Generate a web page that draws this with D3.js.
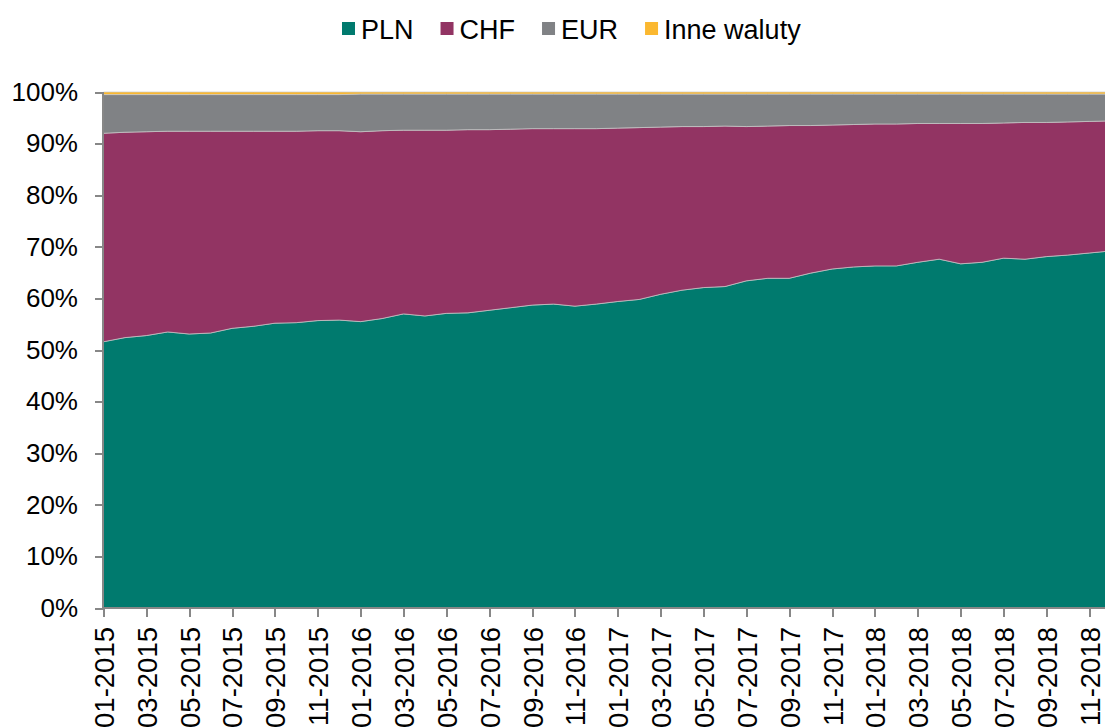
<!DOCTYPE html>
<html lang="pl">
<head>
	<meta charset="utf-8">
	<title>Struktura walutowa</title>
	<script src="https://d3js.org/d3.v7.min.js" charset="utf-8"></script>

	<style>
		body {
			margin: 0;
			background: #fff;
			font-family: "Liberation Sans", Arial, sans-serif;
		}
		.axis path,
		.axis line {
			fill: none;
			stroke: #878787;
			stroke-width: 2px;
			shape-rendering: crispEdges;
		}
		.axis text {
			font-family: "Liberation Sans", Arial, sans-serif;
			font-size: 26px;
			fill: #000;
		}
		.xaxis text {
			font-size: 27.5px;
		}
		.layer {
			stroke: #c9c9c9;
			stroke-width: 0.7px;
		}
		.legend text {
			font-size: 27px;
		}
	</style>
</head>

<body>
<script>

	// months, 01-2015 .. 12-2018
	var months = [];
	for (var yr = 2015; yr <= 2018; yr++) {
		for (var m = 1; m <= 12; m++) {
			months.push((m < 10 ? "0" + m : "" + m) + "-" + yr);
		}
	}

	// shares in %
	var pln = [51.6, 52.4, 52.8, 53.5, 53.1, 53.3, 54.2, 54.6, 55.2, 55.3, 55.7, 55.8,
	           55.5, 56.1, 57.0, 56.6, 57.1, 57.2, 57.7, 58.2, 58.7, 58.9, 58.5, 58.9,
	           59.4, 59.8, 60.8, 61.6, 62.1, 62.3, 63.4, 63.9, 63.9, 64.9, 65.7, 66.1,
	           66.3, 66.3, 67.0, 67.6, 66.7, 67.0, 67.8, 67.6, 68.1, 68.4, 68.8, 69.2];

	var chf = [40.4, 39.8, 39.5, 38.9, 39.3, 39.1, 38.2, 37.8, 37.2, 37.1, 36.8, 36.7,
	           36.8, 36.4, 35.6, 36.0, 35.5, 35.5, 35.0, 34.6, 34.2, 34.0, 34.4, 34.0,
	           33.6, 33.3, 32.4, 31.7, 31.2, 31.1, 29.9, 29.5, 29.6, 28.6, 27.9, 27.6,
	           27.5, 27.5, 26.9, 26.3, 27.2, 26.9, 26.2, 26.5, 26.0, 25.8, 25.5, 25.2];

	var eur = [7.5, 7.3, 7.2, 7.1, 7.1, 7.1, 7.1, 7.1, 7.1, 7.1, 7.0, 7.0,
	           7.3, 7.1, 7.0, 7.0, 7.0, 6.9, 6.9, 6.8, 6.7, 6.7, 6.7, 6.7,
	           6.6, 6.5, 6.4, 6.3, 6.3, 6.2, 6.3, 6.2, 6.1, 6.1, 6.0, 5.9,
	           5.8, 5.8, 5.7, 5.7, 5.7, 5.7, 5.6, 5.5, 5.5, 5.4, 5.3, 5.2];

	var inne = [0.5, 0.5, 0.5, 0.5, 0.5, 0.5, 0.5, 0.5, 0.5, 0.5, 0.5, 0.5,
	            0.4, 0.4, 0.4, 0.4, 0.4, 0.4, 0.4, 0.4, 0.4, 0.4, 0.4, 0.4,
	            0.4, 0.4, 0.4, 0.4, 0.4, 0.4, 0.4, 0.4, 0.4, 0.4, 0.4, 0.4,
	            0.4, 0.4, 0.4, 0.4, 0.4, 0.4, 0.4, 0.4, 0.4, 0.4, 0.4, 0.4];

	var seriesNames = ["PLN", "CHF", "EUR", "Inne waluty"];
	var colors = ["#007a6e", "#923463", "#808285", "#fbb830"];
	var yTicks = [0, 10, 20, 30, 40, 50, 60, 70, 80, 90, 100];

	var width = 1105,
	    height = 727;

	// Create SVG
	var svg = d3.select("body")
	    .append("svg")
	    .attr("width", width)
	    .attr("height", height);

	// rows for the stack
	var rows = months.map(function(d, i) {
		return { i: i, "PLN": pln[i], "CHF": chf[i], "EUR": eur[i], "Inne waluty": inne[i] };
	});

	var stack = d3.stack().keys(seriesNames);
	var layers = stack(rows);

	// the last month sits just past the right edge of the picture
	var x = d3.scaleLinear()
	    .domain([0, months.length - 1])
	    .range([103.5, 1110.7]);

	var y = d3.scaleLinear()
	    .domain([0, 100])
	    .range([608, 92]);

	var area = d3.area()
	    .x(function(d) { return x(d.data.i); })
	    .y0(function(d) { return y(d[0]); })
	    .y1(function(d) { return y(d[1]); });

	svg.append("g")
	    .selectAll("path")
	    .data(layers)
	    .enter()
	    .append("path")
	    .attr("class", "layer")
	    .attr("fill", function(d, i) { return colors[i]; })
	    .attr("d", area);

	// y axis
	var yAxis = svg.append("g")
	    .attr("class", "axis")
	    .attr("transform", "translate(103,0)")
	    .call(d3.axisLeft(y)
	        .tickValues(yTicks)
	        .tickSize(8)
	        .tickPadding(17)
	        .tickFormat(function(d) { return d + "%"; }));
	yAxis.select(".domain").attr("d", "M0," + y(0) + "V" + y(100));

	// x axis, label every second month
	var xTicks = d3.range(0, months.length, 2);
	var xAxis = svg.append("g")
	    .attr("class", "axis xaxis")
	    .attr("transform", "translate(0,608)")
	    .call(d3.axisBottom(x)
	        .tickValues(xTicks)
	        .tickSize(9)
	        .tickFormat(function(d) { return months[d]; }));
	xAxis.select(".domain").attr("d", "M" + x(0) + ",0H" + width);
	xAxis.selectAll("text")
	    .attr("transform", "rotate(-90)")
	    .attr("text-anchor", "end")
	    .attr("x", -19)
	    .attr("y", 0)
	    .attr("dy", "0.36em");

	// legend on top
	var legend = svg.append("g").attr("class", "legend");
	var lx = 342;
	seriesNames.forEach(function(name, i) {
		var item = legend.append("g").attr("transform", "translate(" + lx + ",0)");
		item.append("rect")
		    .attr("x", 0)
		    .attr("y", 22)
		    .attr("width", 13)
		    .attr("height", 13)
		    .attr("fill", colors[i]);
		var t = item.append("text")
		    .attr("x", 19)
		    .attr("y", 38.5)
		    .text(name);
		lx += 19 + t.node().getComputedTextLength() + 27;
	});

</script>
</body>
</html>
